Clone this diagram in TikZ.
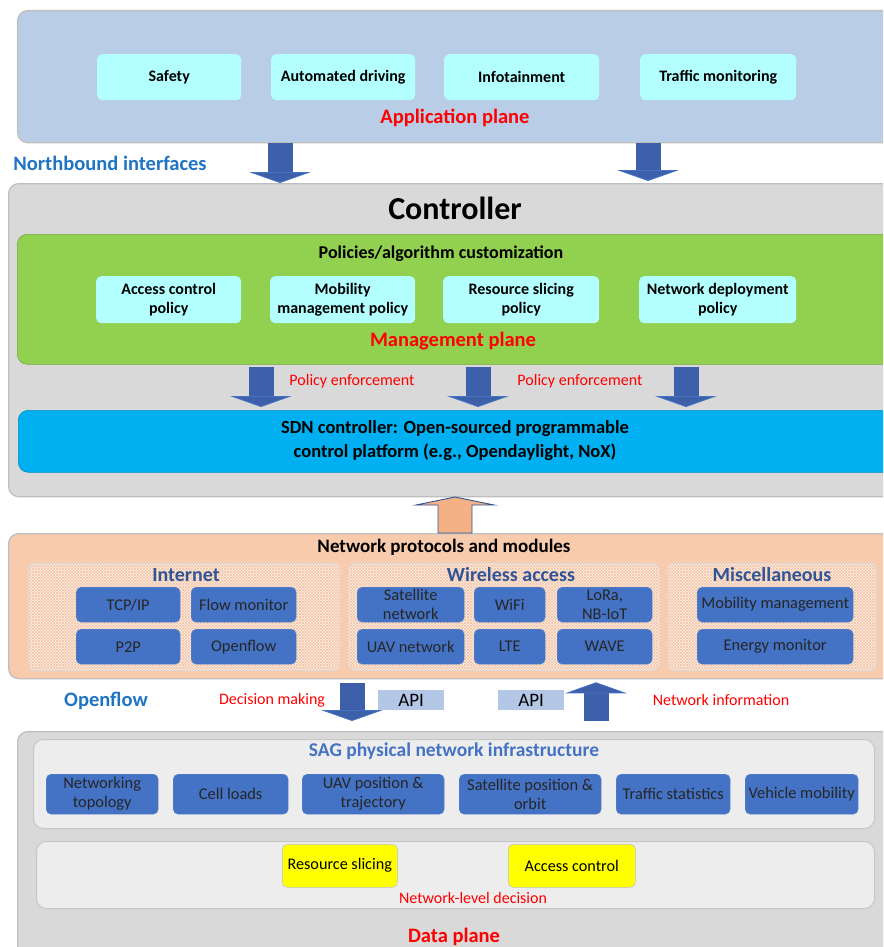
\documentclass[tikz,border=0pt]{standalone}
\usepackage{fontspec}
\setmainfont{Carlito}
\usetikzlibrary{arrows.meta,patterns}

\definecolor{appbg}{HTML}{BACDE6}
\definecolor{appcyan}{HTML}{B3FFFF}
\definecolor{edgegrey}{HTML}{BFBFBF}
\definecolor{ctrlgrey}{HTML}{D9D9D9}
\definecolor{mgmtgreen}{HTML}{92D050}
\definecolor{sdnblue}{HTML}{00B0F0}
\definecolor{npmbg}{HTML}{F8CBAD}
\definecolor{hatchbase}{HTML}{FDF0E8}
\definecolor{hatchline}{HTML}{F3C4A6}
\definecolor{modblue}{HTML}{4472C4}
\definecolor{titleblue}{HTML}{2F5597}
\definecolor{labelblue}{HTML}{1F74C4}
\definecolor{arrowblue}{HTML}{3E60AA}
\definecolor{arroworange}{HTML}{F4B183}
\definecolor{apiblue}{HTML}{B4C7E7}
\definecolor{panelgrey}{HTML}{EDEDED}
\definecolor{slicey}{HTML}{FFFF00}

\newcommand{\fsz}[2]{\fontsize{#1}{#2}\selectfont}

\tikzset{
  plane/.style={draw=edgegrey, line width=1.3pt, rounded corners=10pt, anchor=north west, inner sep=0pt},
  tile/.style={rounded corners=5pt, anchor=north west, inner sep=0pt, align=center},
  appbox/.style={tile, fill=appcyan, minimum height=46pt, font=\bfseries\fsz{16}{19}},
  polbox/.style={tile, fill=appcyan, minimum height=47pt, font=\bfseries\fsz{16}{19}},
  hatchpanel/.style={plane, draw=white!85!black, line width=0.8pt, rounded corners=6pt,
    preaction={fill=hatchbase}, preaction={pattern=north east lines, pattern color=hatchline},
    pattern=north west lines, pattern color=hatchline, minimum height=107pt},
  modbox/.style={tile, fill=modblue, draw=modblue!85!white, minimum height=35pt, text=black!85, font=\fsz{16.4}{19}},
  infrabox/.style={modbox, minimum height=40pt},
  greypanel/.style={plane, fill=panelgrey, draw=white!78!black, line width=1pt},
  slicebox/.style={tile, fill=slicey, draw=white!75!black, line width=0.5pt, minimum height=43pt, font=\fsz{16.2}{19}},
  apibox/.style={anchor=north west, inner sep=0pt, fill=apiblue, minimum width=66pt, minimum height=20pt, font=\fsz{19}{22}},
  planelabel/.style={text=red, font=\bfseries\fsz{20.5}{24}},
  flowlabel/.style={text=red, font=\fsz{16}{19}},
  paneltitle/.style={text=titleblue, font=\bfseries\fsz{20}{24}},
  blockarrow/.style={line width=25pt, draw=arrowblue, -{Triangle[width=62pt, length=11pt, line width=0.8pt, fill=arrowblue, color=modblue]}},
}

\begin{document}
\begin{tikzpicture}[x=1pt, y=-1pt]
  \useasboundingbox (0,0) rectangle (883,947);
  \clip (0,0) rectangle (883,947);

  % Application plane
  \node[plane, fill=appbg, minimum width=880pt, minimum height=132pt] (appplane) at (17,10) {};
  \node[appbox, minimum width=144pt] (safety) at (97,54) {Safety};
  \node[appbox, minimum width=144pt] (autodrv) at (271,54) {Automated driving};
  \node[appbox, minimum width=155pt] (infotain) at (444,54) {Infotainment};
  \node[appbox, minimum width=156pt] (trafmon) at (640,54) {Traffic monitoring};
  \node[planelabel] (applabel) at (455,118) {Application plane};
  \node[text=labelblue, font=\bfseries\fsz{20.5}{24}] (northlabel) at (110,163) {Northbound interfaces};

  % Controller
  \node[plane, fill=ctrlgrey, minimum width=890pt, minimum height=313pt] (ctrl) at (8,183) {};
  \node[font=\bfseries\fsz{32}{36}] (ctrllabel) at (455,208) {Controller};
  \coordinate (nb1) at (280,0);
  \coordinate (nb2) at (648,0);
  \draw[blockarrow] (appplane.south -| nb1) -- (ctrl.north -| nb1);
  \draw[blockarrow] (appplane.south -| nb2) -- ([yshift=2pt]ctrl.north -| nb2);

  \node[plane, draw=mgmtgreen!80!black, line width=0.6pt, fill=mgmtgreen, minimum width=880pt, minimum height=130pt] (mgmt) at (17,234) {};
  \node[font=\bfseries\fsz{18}{22}] (poltitle) at (441,254) {Policies/algorithm customization};
  \node[polbox, minimum width=145pt] (accpol) at (96,276) {Access control\\policy};
  \node[polbox, minimum width=145pt] (mobpol) at (270,276) {Mobility\\management policy};
  \node[polbox, minimum width=156pt] (respol) at (443,276) {Resource slicing\\policy};
  \node[polbox, minimum width=157pt] (deppol) at (639,276) {Network deployment\\policy};
  \node[planelabel] (mgmtlabel) at (453,341) {Management plane};

  \node[plane, draw=sdnblue!80!black, line width=0.6pt, fill=sdnblue, minimum width=879pt, minimum height=62pt] (sdn) at (18,410) {};
  \node[align=center, font=\bfseries\fsz{18.5}{24}] (sdnlabel) at (455,441) {SDN controller: Open-sourced programmable\\control platform (e.g., Opendaylight, NoX)};

  \coordinate (pe1) at (261,0);
  \coordinate (pe2) at (478,0);
  \coordinate (pe3) at (686,0);
  \foreach \p in {pe1,pe2,pe3}
    \draw[blockarrow, shorten <=2pt, shorten >=3pt] (mgmt.south -| \p) -- (sdn.north -| \p);
  \node[flowlabel] (pelabel1) at (352,381) {Policy enforcement};
  \node[flowlabel] (pelabel2) at (580,381) {Policy enforcement};

  % Network protocols and modules
  \node[plane, fill=npmbg, minimum width=890pt, minimum height=145pt] (npm) at (8,533) {};
  \node[font=\bfseries\fsz{19}{22}] (npmtitle) at (444,547) {Network protocols and modules};
  \coordinate (upx) at (455,0);
  \draw[draw=titleblue, line width=0.9pt, fill=arroworange, line join=miter]
    (npm.north -| upx) -- ++(-17,0) -- ++(0,-28) -- ++(-22,0) -- ++(39,-8)
    -- ++(39,8) -- ++(-22,0) -- ++(0,28) -- cycle;

  \node[hatchpanel, minimum width=312pt] (internet) at (28,563) {};
  \node[hatchpanel, minimum width=311pt] (wireless) at (348,563) {};
  \node[hatchpanel, minimum width=209pt] (misc) at (667,563) {};
  \node[paneltitle] (internettitle) at (186,575) {Internet};
  \node[paneltitle] (wirelesstitle) at (511,575) {Wireless access};
  \node[paneltitle] (misctitle) at (772,575) {Miscellaneous};

  \node[modbox, minimum width=104pt] (tcpip) at (76,587) {TCP/IP};
  \node[modbox, minimum width=105pt] (flowmon) at (191,587) {Flow monitor};
  \node[modbox, minimum width=104pt] (ptwop) at (76,629) {P2P};
  \node[modbox, minimum width=105pt] (openflowmod) at (191,629) {Openflow};

  \node[modbox, minimum width=107pt] (satnet) at (357,587) {Satellite\\network};
  \node[modbox, minimum width=71pt] (wifi) at (474,587) {WiFi};
  \node[modbox, minimum width=95pt] (lora) at (557,587) {LoRa,\\NB-IoT};
  \node[modbox, minimum width=107pt] (uavnet) at (357,629) {UAV network};
  \node[modbox, minimum width=71pt] (lte) at (474,629) {LTE};
  \node[modbox, minimum width=95pt] (wave) at (557,629) {WAVE};

  \node[modbox, minimum width=156pt] (mobmgmt) at (697,587) {Mobility management};
  \node[modbox, minimum width=156pt] (energy) at (697,629) {Energy monitor};

  % Openflow interface
  \node[plane, fill=ctrlgrey, minimum width=880pt, minimum height=230pt] (data) at (17,731) {};
  \node[text=labelblue, font=\bfseries\fsz{20.5}{24}] (openflowlabel) at (106,701) {Openflow};
  \node[flowlabel] (decisionlabel) at (272,700) {Decision making};
  \node[flowlabel] (infolabel) at (721,700) {Network information};
  \coordinate (dm) at (352,0);
  \coordinate (ni) at (596,0);
  \draw[blockarrow, shorten <=4pt, shorten >=10pt] (npm.south -| dm) -- (data.north -| dm);
  \draw[blockarrow, shorten <=10pt, shorten >=3pt] (data.north -| ni) -- (npm.south -| ni);
  \node[apibox] (apidown) at (378,690) {API};
  \node[apibox] (apiup) at (498,690) {API};

  % Data plane
  \node[greypanel, minimum width=841pt, minimum height=89pt] (sag) at (33,739) {};
  \node[text=modblue, font=\bfseries\fsz{19.5}{23}] (sagtitle) at (454,751) {SAG physical network infrastructure};
  \node[infrabox, minimum width=112pt] (nettopo) at (46,774) {Networking\\topology};
  \node[infrabox, minimum width=115pt] (cellloads) at (173,774) {Cell loads};
  \node[infrabox, minimum width=142pt] (uavpos) at (302,774) {UAV position \&\\trajectory};
  \node[infrabox, minimum width=142pt] (satpos) at (459,774) {Satellite position \&\\orbit};
  \node[infrabox, minimum width=114pt] (trafstat) at (616,774) {Traffic statistics};
  \node[infrabox, minimum width=113pt] (vehmob) at (745,774) {Vehicle mobility};

  \node[greypanel, minimum width=838pt, minimum height=67pt] (decision) at (36,841) {};
  \node[slicebox, minimum width=115pt] (resslice) at (282,844) {Resource slicing};
  \node[slicebox, minimum width=127pt] (accctrl) at (508,844) {Access control};
  \node[flowlabel] (netdecision) at (473,898) {Network-level decision};
  \node[planelabel] (datalabel) at (454,937) {Data plane};
\end{tikzpicture}
\end{document}
